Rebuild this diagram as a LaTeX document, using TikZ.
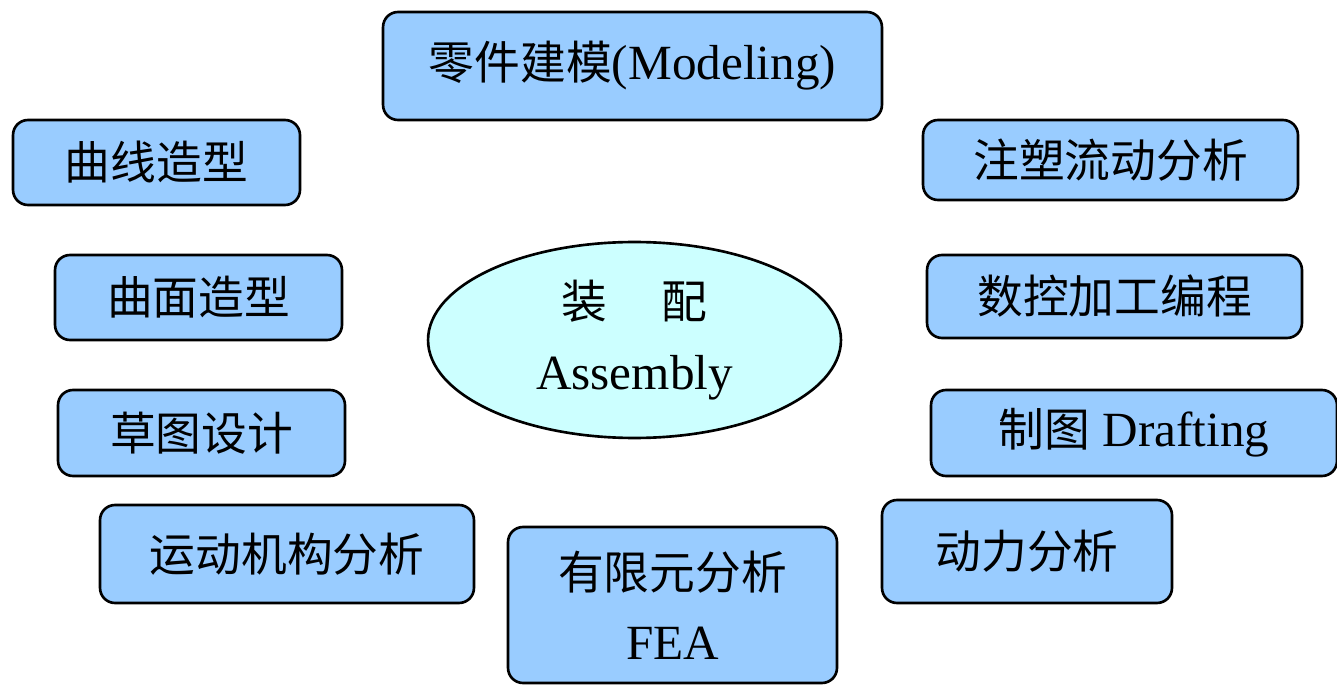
\documentclass[tikz,border=0pt]{standalone}
\usepackage{fontspec}
\setmainfont{Liberation Serif}
\newfontfamily\cjk{Noto Sans CJK SC}[Scale=0.93]
\usetikzlibrary{shapes.geometric}
\definecolor{boxfill}{HTML}{99CCFF}
\definecolor{ellfill}{HTML}{CCFFFF}
\begin{document}
\begin{tikzpicture}[x=0.02cm,y=-0.02cm,
  box/.style={draw=black,line width=1.5pt,fill=boxfill,rounded corners=0.3cm,
    inner sep=0pt,align=center,font=\fontsize{28}{40}\selectfont},
  hub/.style={draw=black,line width=1.5pt,fill=ellfill,ellipse,inner sep=0pt,
    align=center,font=\fontsize{28}{40}\selectfont}]
\useasboundingbox (0,0) rectangle (1337,685);
\node[box,minimum width=9.98cm,minimum height=2.16cm] (model) at (632.5,66) {{\cjk 零件建模}(Modeling)};
\node[box,minimum width=5.74cm,minimum height=1.70cm] (curve) at (156.5,162.5) {\cjk 曲线造型};
\node[box,minimum width=5.74cm,minimum height=1.70cm] (surf) at (198.5,297.5) {\cjk 曲面造型};
\node[box,minimum width=5.74cm,minimum height=1.72cm] (sketch) at (201.5,433) {\cjk 草图设计};
\node[box,minimum width=7.48cm,minimum height=1.96cm] (kin) at (287,554) {\cjk 运动机构分析};
\node[box,minimum width=6.58cm,minimum height=3.12cm] (fea) at (672.5,605) {{\cjk 有限元分析}\\FEA};
\node[box,minimum width=5.80cm,minimum height=2.06cm] (dyn) at (1027,551.5) {\cjk 动力分析};
\node[box,minimum width=8.12cm,minimum height=1.72cm] (draft) at (1134,433) {{\cjk 制图} Drafting};
\node[box,minimum width=7.50cm,minimum height=1.66cm] (nc) at (1114.5,296.5) {\cjk 数控加工编程};
\node[box,minimum width=7.50cm,minimum height=1.60cm] (mold) at (1110.5,160) {\cjk 注塑流动分析};
\node[hub,minimum width=8.26cm,minimum height=3.92cm] (asm) at (634.5,340) {{\cjk 装\hspace{1.1cm}配}\\Assembly};
\end{tikzpicture}
\end{document}
